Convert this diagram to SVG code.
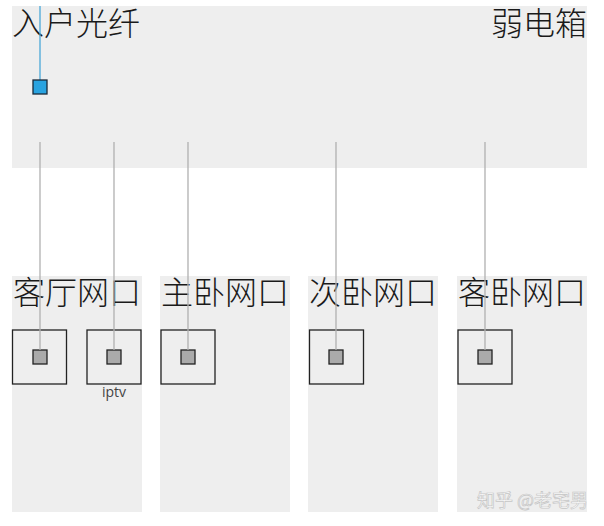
<svg xmlns="http://www.w3.org/2000/svg" width="604" height="526" viewBox="0 0 604 526">
<style>
.panel{fill:#eeeeee}
.lbl{font-family:"Noto Sans CJK SC","Noto Sans",sans-serif;font-size:32px;font-weight:300;fill:#1a1a1a}
.port{fill:none;stroke:#222;stroke-width:1.3}
.jack{fill:#aaaaaa;stroke:#222;stroke-width:1.3}
.wire{stroke:#b0b0b0;stroke-width:1.3;fill:none}
.small{font-family:"Open Sans","Noto Sans",sans-serif;font-size:14px;fill:#444}
</style>
<rect width="604" height="526" fill="#ffffff"/>
<g id="box">
<rect class="panel" x="12" y="6" width="575" height="162"/>
<text class="lbl" x="12" y="35">入户光纤</text>
<text class="lbl" x="587" y="35" text-anchor="end">弱电箱</text>
</g>
<g id="living">
<rect class="panel" x="12" y="276" width="130" height="236"/>
<text class="lbl" x="13" y="304">客厅网口</text>
<rect class="port" x="12.5" y="330" width="54" height="54"/>
<rect class="jack" x="33" y="350" width="14" height="14"/>
<rect class="port" x="87" y="330" width="54" height="54"/>
<rect class="jack" x="107" y="350" width="14" height="14"/>
<text class="small" x="114" y="397" text-anchor="middle">iptv</text>
</g>
<g id="master">
<rect class="panel" x="160" y="276" width="130" height="236"/>
<text class="lbl" x="161" y="304">主卧网口</text>
<rect class="port" x="161" y="330" width="54" height="54"/>
<rect class="jack" x="181" y="350" width="14" height="14"/>
</g>
<g id="second">
<rect class="panel" x="308" y="276" width="130" height="236"/>
<text class="lbl" x="309" y="304">次卧网口</text>
<rect class="port" x="309.5" y="330" width="54" height="54"/>
<rect class="jack" x="329" y="350" width="14" height="14"/>
</g>
<g id="guest">
<rect class="panel" x="457" y="276" width="130" height="236"/>
<text class="lbl" x="458" y="304">客卧网口</text>
<rect class="port" x="458" y="330" width="54" height="54"/>
<rect class="jack" x="478" y="350" width="14" height="14"/>
</g>
<g id="connectors">
<line x1="40" y1="6" x2="40" y2="80" stroke="#4aa8d8" stroke-width="1.3"/>
<line class="wire" x1="40" y1="142" x2="40" y2="350"/>
<line class="wire" x1="114" y1="142" x2="114" y2="350"/>
<line class="wire" x1="188" y1="142" x2="188" y2="350"/>
<line class="wire" x1="336" y1="142" x2="336" y2="350"/>
<line class="wire" x1="485" y1="142" x2="485" y2="350"/>
</g>
<g id="fiber">
<rect x="33" y="80" width="14" height="14" fill="#29a3e0" stroke="#1a2a3a" stroke-width="1.3"/>
</g>
<text x="588" y="507" text-anchor="end" font-family="Noto Sans CJK SC,sans-serif" font-size="18" fill="#ffffff" stroke="#c4c4c4" stroke-width="0.7">知乎 @老宅男</text>
</svg>
